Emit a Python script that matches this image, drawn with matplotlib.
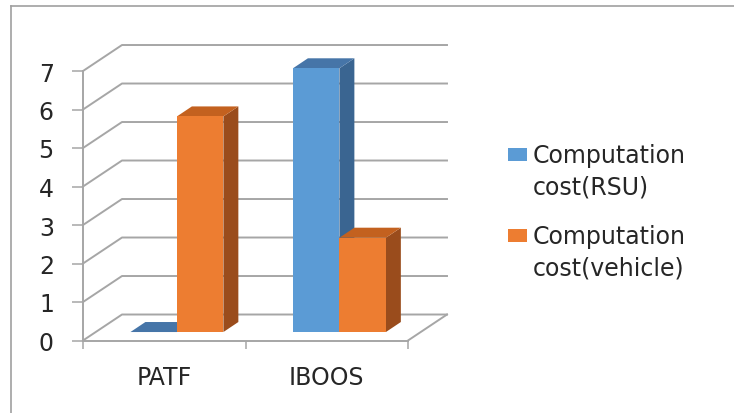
import matplotlib
matplotlib.use("Agg")
import matplotlib.pyplot as plt
from matplotlib.patches import Polygon, Rectangle
from matplotlib.lines import Line2D

categories = ["PATF", "IBOOS"]
rsu_cost = [0.0, 6.85]
vehicle_cost = [5.6, 2.45]
series_names = ["Computation\ncost(RSU)", "Computation\ncost(vehicle)"]
y_ticks = [0, 1, 2, 3, 4, 5, 6, 7]

W, H = 734, 414
fig = plt.figure(figsize=(W / 100, H / 100), dpi=100)

def fx(x):
    return x / W

def fy(y):
    return 1 - y / H

grid_c = "#A6A6A6"
text_c = "#262626"
fs = 17

ax = fig.add_axes([fx(83), fy(341.5), 325 / W, 269.5 / H])
ax.set_xlim(-0.5, 1.5)
ax.set_ylim(0, 7)
ax.set_facecolor("none")

# 3D geometry (data units)
bx, by = 0.24, 0.675        # back wall offset
ox, oy = 0.078, 0.22        # bar front-face offset
dx, dy = 0.092, 0.26        # bar depth
bw = 0.286                  # bar width

# walls / gridlines
for k in y_ticks:
    ax.plot([-0.5, -0.5 + bx, 1.5 + bx], [k, k + by, k + by],
            color=grid_c, lw=1.4, clip_on=False, zorder=1)
# floor
ax.plot([1.5, 1.5 + bx], [0, by], color=grid_c, lw=1.4, clip_on=False, zorder=1)

series = [
    (rsu_cost, "#5B9BD5", "#4675A8", "#3A6591"),
    (vehicle_cost, "#ED7D31", "#C3611F", "#9A4C1C"),
]
for s, (vals, front, top, side) in enumerate(series):
    xs = [i + ox + (s - 0.5) * bw for i in range(len(categories))]
    for xc, v in zip(xs, vals):
        xl = xc - bw / 2
        xr = xc + bw / 2
        ax.add_patch(Polygon([(xr, oy), (xr + dx, oy + dy), (xr + dx, oy + v + dy), (xr, oy + v)],
                             closed=True, facecolor=side, edgecolor="none", clip_on=False, zorder=3 + 2 * s))
        ax.add_patch(Polygon([(xl, oy + v), (xr, oy + v), (xr + dx, oy + v + dy), (xl + dx, oy + v + dy)],
                             closed=True, facecolor=top, edgecolor="none", clip_on=False, zorder=3 + 2 * s))
    ax.bar(xs, vals, width=bw, bottom=oy, color=front, clip_on=False, zorder=4 + 2 * s)

for sp in ["top", "right"]:
    ax.spines[sp].set_visible(False)
for sp in ["left", "bottom"]:
    ax.spines[sp].set_color(grid_c)
    ax.spines[sp].set_linewidth(1.4)

ax.set_yticks(y_ticks)
ax.set_yticklabels([str(t) for t in y_ticks])
ax.tick_params(axis="y", length=8, width=1.1, color=grid_c, pad=13, labelsize=fs, labelcolor=text_c)
ax.set_xticks([0, 1])
ax.set_xticklabels(categories)
ax.set_xticks([-0.5, 0.5, 1.5], minor=True)
ax.tick_params(axis="x", which="major", length=0, pad=18, labelsize=fs, labelcolor=text_c)
ax.tick_params(axis="x", which="minor", length=6, width=1.1, color=grid_c)

# legend
leg_colors = ["#5B9BD5", "#ED7D31"]
leg_sq_y = [149, 230]
for name, col, sy in zip(series_names, leg_colors, leg_sq_y):
    fig.patches.append(Rectangle((fx(508), fy(sy + 13)), 19 / W, 13 / H,
                                 transform=fig.transFigure, facecolor=col, edgecolor="none"))
    fig.text(fx(533), fy(sy - 5), name, fontsize=fs, color=text_c, va="top", ha="left",
             linespacing=1.4)

# outer border (left and top)
fig.add_artist(Line2D([fx(11), fx(11)], [fy(7), fy(414)], color="#A0A0A0", lw=1.2,
                      transform=fig.transFigure))
fig.add_artist(Line2D([fx(11), fx(734)], [fy(7), fy(7)], color="#A0A0A0", lw=1.2,
                      transform=fig.transFigure))

fig.savefig("out.png", dpi=100, facecolor="white")
